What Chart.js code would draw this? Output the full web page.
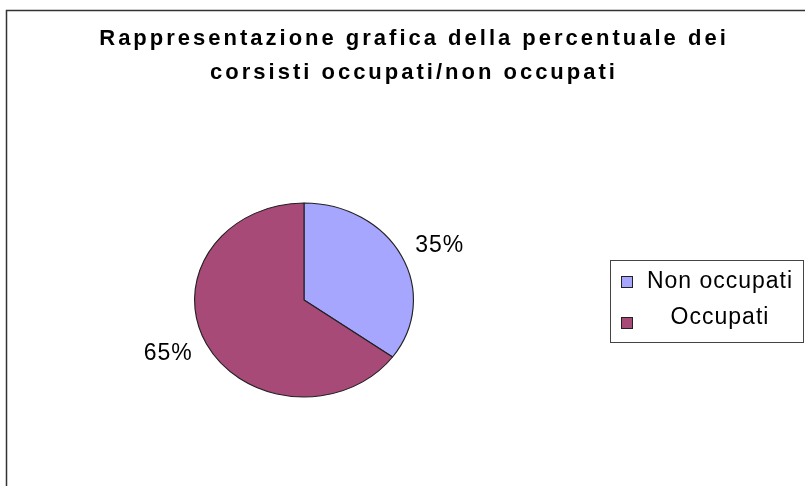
<!DOCTYPE html>
<html>
<head>
<meta charset="utf-8">
<script src="https://cdn.jsdelivr.net/npm/chart.js@4.4.0/dist/chart.umd.min.js"></script>
<style>
html, body { margin: 0; padding: 0; background: #fff; }
#wrap { width: 805px; height: 486px; position: relative; }
</style>
</head>
<body>
<div id="wrap"><canvas id="pieChart" width="805" height="486"></canvas></div>
<script>
// chart data
var titleLines = ['Rappresentazione grafica della percentuale dei', 'corsisti occupati/non occupati'];
var categories = ['Non occupati', 'Occupati'];
var percentValues = [35, 65];
var pieLabels = ['35%', '65%'];

var sliceColors = ['#A6A6FF', '#A84A77'];
var fontFamily = '"Liberation Sans", Arial, sans-serif';

// the original pie is a bit wider than tall
var stretchX = 110 / 97.5;

var ellipsePlugin = {
    id: 'ellipse',
    beforeDatasetsDraw: function(chart) {
        var ctx = chart.ctx;
        var cx = (chart.chartArea.left + chart.chartArea.right) / 2;
        ctx.save();
        ctx.translate(cx, 0);
        ctx.scale(stretchX, 1);
        ctx.translate(-cx, 0);
    },
    afterDatasetsDraw: function(chart) {
        chart.ctx.restore();
    }
};

var sliceLabelsPlugin = {
    id: 'sliceLabels',
    afterDatasetsDraw: function(chart) {
        var ctx = chart.ctx;
        var meta = chart.getDatasetMeta(0);
        ctx.save();
        ctx.font = '23px ' + fontFamily;
        ctx.letterSpacing = '1px';
        ctx.fillStyle = '#000';
        ctx.textAlign = 'center';
        ctx.textBaseline = 'middle';
        meta.data.forEach(function(arc, i) {
            var p = arc.getProps(['x', 'y', 'startAngle', 'endAngle', 'outerRadius']);
            var mid = (p.startAngle + p.endAngle) / 2;
            var r = p.outerRadius + 38;
            ctx.fillText(pieLabels[i], p.x + Math.cos(mid) * r * stretchX, p.y + Math.sin(mid) * r * 0.88);
        });
        ctx.restore();
    }
};

// frame, title and legend box like the spreadsheet chart
var decorPlugin = {
    id: 'decor',
    afterDraw: function(chart) {
        var ctx = chart.ctx;
        ctx.save();

        // outer frame (top and left edges visible)
        ctx.strokeStyle = '#333';
        ctx.lineWidth = 1.5;
        ctx.beginPath();
        ctx.moveTo(6.5, 490);
        ctx.lineTo(6.5, 10.5);
        ctx.lineTo(810, 10.5);
        ctx.stroke();

        // title
        ctx.fillStyle = '#000';
        ctx.font = 'bold 22px ' + fontFamily;
        ctx.letterSpacing = '3px';
        ctx.textAlign = 'center';
        ctx.textBaseline = 'alphabetic';
        ctx.fillText(titleLines[0], 414, 45);
        ctx.fillText(titleLines[1], 414, 79);

        // legend
        ctx.letterSpacing = '1px';
        ctx.lineWidth = 1;
        ctx.strokeStyle = '#444';
        ctx.strokeRect(610.5, 260.5, 193, 82);
        ctx.font = '23px ' + fontFamily;
        var rows = [288, 323.5];
        var boxes = [276, 317];
        categories.forEach(function(name, i) {
            ctx.fillStyle = sliceColors[i];
            ctx.fillRect(621, boxes[i], 12, 12);
            ctx.strokeStyle = '#222';
            ctx.strokeRect(621.5, boxes[i] + 0.5, 11, 11);
            ctx.fillStyle = '#000';
            ctx.fillText(name, 720, rows[i]);
        });
        ctx.restore();
    }
};

var ctx = document.getElementById('pieChart');
var pieChart = new Chart(ctx, {
    type: 'pie',
    data: {
        labels: categories,
        datasets: [{
            data: percentValues,
            backgroundColor: sliceColors,
            borderColor: '#222',
            borderWidth: 1
        }]
    },
    options: {
        responsive: false,
        animation: false,
        layout: {
            padding: { left: 206.5, right: 403.5, top: 202.5, bottom: 88.5 }
        },
        plugins: {
            legend: { display: false },
            title: { display: false },
            tooltip: { enabled: false }
        }
    },
    plugins: [ellipsePlugin, sliceLabelsPlugin, decorPlugin]
});
</script>
</body>
</html>
